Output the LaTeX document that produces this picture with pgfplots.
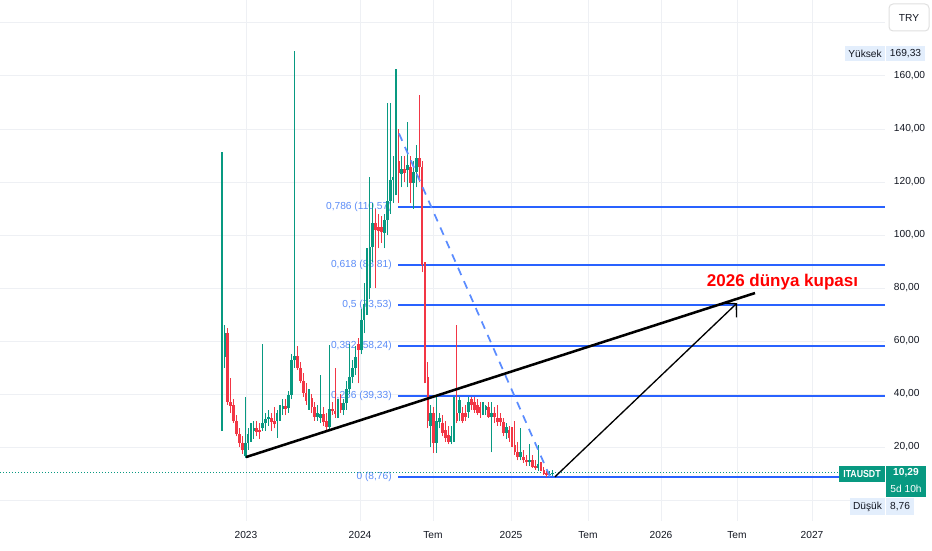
\documentclass[border=0pt]{standalone}
\usepackage{fontspec}
\setmainfont{Liberation Sans}
\usepackage{graphicx}
\usepackage{pgfplots}
\pgfplotsset{compat=1.18}
\usepackage{pgfplotstable}
\usetikzlibrary{arrows.meta}

\definecolor{tvgreen}{HTML}{089981}
\definecolor{tvred}{HTML}{F23645}
\definecolor{fibblue}{HTML}{2962FF}
\definecolor{fibtext}{HTML}{5B8CF7}
\definecolor{dashblue}{HTML}{5B8CFF}
\definecolor{gridc}{HTML}{EEF0F4}
\definecolor{tvtext}{HTML}{131722}
\definecolor{tvbox}{HTML}{E3EEFC}
\newcommand{\smallf}{\fontsize{7.65pt}{9pt}\selectfont}

% x = position on the time scale, o h l c = open high low close (TRY)
\pgfplotstableread{
x o h l c
222.0 27.5 131.3 26 54
224.9 54 66 50 63
245.2 16.5 39 16 21.5
248.1 21.5 27 19 25
251.0 25 29 22 26.5
253.9 26 30 23 27
262.6 27 59 26 29
265.5 29 33 26 30.5
268.4 30.5 34 28 31.5
277.1 30 34 23.4 32.8
280.0 32.8 36 30 34.5
282.9 34.5 38 32 35.5
288.7 34.7 41 33 39.6
291.6 39.6 55 38 52.8
294.5 52.8 169.33 50 54.5
309.0 36 42 34 38.5
317.7 31.5 36 30 33
320.6 31 47 29 32.5
329.3 27.5 58.5 26 34.5
338.0 33 38 31 36.5
343.8 34 38 32 36.6
346.7 36.6 45 34 42
349.6 42 59 40 46.4
352.5 46.4 53 44 50
355.4 50 58 47 54
361.2 56.6 72 55 68
364.1 68 82 63 74
367.0 74 95 70 80
369.9 80 122 76 95.5
372.8 95.5 112 90 104.5
384.4 100.8 108 95 105.7
387.3 105.7 150 100 113
390.2 113 150 108 120.8
393.1 120.8 130 112 122
396.0 122 162.6 115 136.6
401.8 123 130 118 125
407.6 124.5 142.6 118 126.4
413.4 119.6 128 110 123.8
416.3 123.8 134 118 129
430.8 28 36 20 32.8
436.6 21.5 38.9 17.7 30
439.5 29.5 33 27 31
451.1 22 28 21 24
454.0 23.8 38.9 22 32.8
459.8 32.8 39 30 37.7
468.5 33.2 39 31 37
483.0 33.5 37 32 35
485.9 34 36 32 35.5
491.7 31.3 37 18 33
506.2 25.3 29 23 27.5
520.7 16.2 27 15 18
529.4 14.2 21 13 15
538.1 12 20.7 11 13.5
549.7 9.4 10.8 9 9.9
552.6 9.7 11.5 9.2 10.29
}\greenT

\pgfplotstableread{
x o h l c
227.8 63 65 36 37
230.7 37 46 33 35.5
233.6 36 38 29 30
236.5 30 32 24 25
239.4 25 27 20 21.5
242.3 21.5 24 17.5 19
256.8 27 30 24 25.5
259.7 26.5 29 23 25.5
271.3 31 33 26 29.5
274.2 30 35 27 28.5
285.8 35.5 38 32 34.5
297.4 54.5 58 49 50
300.3 50 52 44 45
303.2 45 48 39 40.5
306.1 40.5 44 36 37.5
311.9 38.5 40 33 35
314.8 35 37 30 31.5
323.5 32.5 35 28 29.5
326.4 30 33 25.7 27.5
332.2 34.5 37 32 33.5
335.1 33.5 50 31 32.5
340.9 36.5 40 33 34
358.3 59 61 44 56.6
375.7 104.5 110 80 102
378.6 103 108 95 101.5
381.5 103 107 97 101
398.9 128 140 112 123.4
404.7 125 130 120 123.5
410.5 125.6 130 112 119.6
419.2 129 152.8 120 125.6
422.1 125.6 128 86 88.7
425.0 86.8 90 44 46.4
427.9 46.4 52 27 30
433.7 32.8 35 17.7 21.5
442.4 29 32 24 25.3
445.3 26.4 30 22 23.4
448.2 24.5 28 21 21.9
456.9 32.8 66 29 30
462.7 32.8 35 29 30
465.6 33 36 30 31.5
471.4 38 39 34 36
474.3 37 39 33 34
477.2 36 38 32 33
480.1 35 37 31 33
488.8 35 37 31 31.3
494.6 33 35 29 31.5
497.5 31 36 28 29.4
500.4 31 33 28 29.4
503.3 29.4 31 24 25.3
509.1 26.4 28 22 23.4
512.0 24.5 27.5 20 20.8
514.9 20.8 30 17 18
517.8 18 22 15 16.2
523.6 16.2 19 14 15
526.5 15 17 13 14.2
532.3 15 17 12 12.5
535.2 13 15 11.5 12
541.0 13 14.5 11 11.3
543.9 11.3 12.5 9.5 9.8
546.8 10.2 11 8.76 9.4
}\redT

\begin{document}
\begin{tikzpicture}[x=0.75pt,y=0.75pt]
\path[use as bounding box] (0,0) rectangle (932,550);
\begin{axis}[
  at={(0pt,21.75pt)}, anchor=south west,
  width=663.75pt, height=390.75pt, scale only axis,
  xmin=0, xmax=885, ymin=-7.92, ymax=188.68,
  clip=false,
  axis line style={draw=none},
  major tick length=0pt,
  grid=major, major grid style={gridc, line width=0.75pt},
  xtick={246,360,433,511,588,661,737,812},
  xticklabels={2023,2024,Tem,2025,Tem,2026,Tem,2027},
  ytick={0,20,40,60,80,100,120,140,160,180},
  yticklabels={,{20,00},{40,00},{60,00},{80,00},{100,00},{120,00},{140,00},{160,00},},
  yticklabel pos=right,
  ticklabel style={font=\smallf, text=tvtext, inner sep=0pt},
  xticklabel style={anchor=center, yshift=-10.5pt},
  yticklabel style={anchor=west, xshift=6.5pt},
]
% Fibonacci levels
\foreach \v/\t in {8.76/{0 (8,76)}, 39.33/{0,236 (39,33)}, 58.24/{0,382 (58,24)}, 73.53/{0,5 (73,53)}, 88.81/{0,618 (88,81)}, 110.57/{0,786 (110,57)}}{
  \edef\temp{\noexpand\node[anchor=east, inner sep=0pt, font=\noexpand\smallf, text=fibtext] at (axis cs:392,\v) {\unexpanded\expandafter{\t}};}
  \temp
}
\addplot[fibblue, line width=1.5pt, forget plot] coordinates {(398,8.76) (885,8.76)};
\addplot[fibblue, line width=1.5pt, forget plot] coordinates {(398,39.33) (885,39.33)};
\addplot[fibblue, line width=1.5pt, forget plot] coordinates {(398,58.24) (885,58.24)};
\addplot[fibblue, line width=1.5pt, forget plot] coordinates {(398,73.53) (885,73.53)};
\addplot[fibblue, line width=1.5pt, forget plot] coordinates {(398,88.81) (885,88.81)};
\addplot[fibblue, line width=1.5pt, forget plot] coordinates {(398,110.57) (885,110.57)};
% current price line
\addplot[tvgreen, line width=0.75pt, dash pattern=on 0.75pt off 1.5pt, forget plot] coordinates {(0,10.29) (838,10.29)};
% wicks
\addplot[draw=none, mark=none, forget plot, error bars/.cd, y dir=plus, y explicit,
  error mark=none, error bar style={draw=tvgreen, line width=0.8pt}]
  table[x=x, y=l, y error plus expr=\thisrow{h}-\thisrow{l}] {\greenT};
\addplot[draw=none, mark=none, forget plot, error bars/.cd, y dir=plus, y explicit,
  error mark=none, error bar style={draw=tvred, line width=0.8pt}]
  table[x=x, y=l, y error plus expr=\thisrow{h}-\thisrow{l}] {\redT};
% bodies
\addplot[draw=none, mark=none, forget plot, error bars/.cd, y dir=plus, y explicit,
  error mark=none, error bar style={draw=tvgreen, line width=2.05pt}]
  table[x=x, y=o, y error plus expr={max(\thisrow{c}-\thisrow{o},0.5)}] {\greenT};
\addplot[draw=none, mark=none, forget plot, error bars/.cd, y dir=plus, y explicit,
  error mark=none, error bar style={draw=tvred, line width=2.05pt}]
  table[x=x, y=c, y error plus expr={max(\thisrow{o}-\thisrow{c},0.5)}] {\redT};
% retracement trend (dashed)
\addplot[dashblue, line width=1.3pt, dash pattern=on 6pt off 5pt, forget plot] coordinates {(399,138.3) (550,8.76)};
% support trend line
\addplot[black, line width=1.9pt, forget plot] coordinates {(246,16.2) (755,78.1)};
% projection arrow
\addplot[black, line width=1pt, -{Straight Barb[length=7pt,width=15pt]}, forget plot] coordinates {(555,8.76) (737,74.3)};
\node[text=red, font=\fontsize{12.75pt}{15pt}\selectfont\bfseries, inner sep=0pt] at (axis cs:782.5,82.3) {2026 dünya kupası};
\end{axis}
% right-hand price scale labels
\draw[rounded corners=3pt, draw=black!12, fill=white, line width=0.75pt] (889,519) rectangle (929,546);
\node[font=\smallf, text=tvtext] at (909,532.5) {TRY};
\fill[tvbox] (845,489) rectangle (885,504);
\node[font=\smallf, text=tvtext, inner sep=0pt] at (865,496.5) {Yüksek};
\fill[tvbox] (886,489) rectangle (925,504);
\node[font=\smallf, text=tvtext, inner sep=0pt] at (905.5,496.5) {169,33};
\fill[tvgreen] (839,68) rectangle (885,84);
\node[font=\smallf\bfseries, text=white, inner sep=0pt] at (862,76) {\scalebox{0.86}[1]{ITAUSDT}};
\fill[tvgreen] (886,53) rectangle (926,84);
\node[font=\smallf\bfseries, text=white, inner sep=0pt] at (906,77) {10,29};
\node[font=\smallf, text=white, inner sep=0pt] at (906,61) {5d 10h};
\fill[tvbox] (850,35) rectangle (885,52);
\node[font=\smallf, text=tvtext, inner sep=0pt] at (867.5,43.5) {Düşük};
\fill[tvbox] (886,35) rectangle (914,52);
\node[font=\smallf, text=tvtext, inner sep=0pt] at (900,43.5) {8,76};
\end{tikzpicture}
\end{document}
